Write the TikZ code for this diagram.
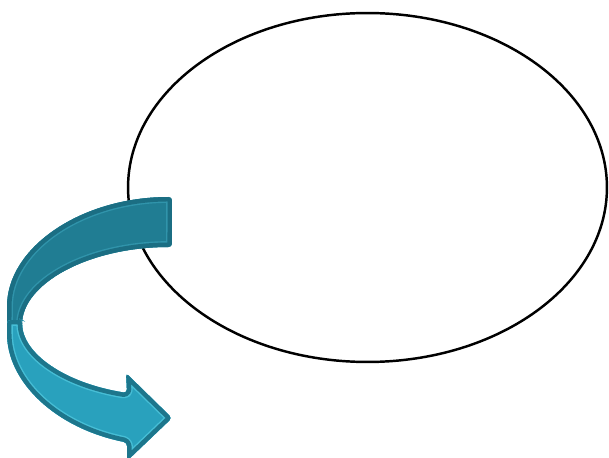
\documentclass[tikz,border=0pt]{standalone}
\usetikzlibrary{positioning}
\definecolor{backfill}{RGB}{32,125,147}
\definecolor{backedge}{RGB}{27,110,131}
\definecolor{backline}{RGB}{48,148,171}
\definecolor{frontfill}{RGB}{41,161,189}
\definecolor{frontedge}{RGB}{29,118,140}
\definecolor{frontline}{RGB}{70,190,214}
% the two halves of the bent arrow
\newcommand{\backband}{(172,260) arc[start angle=90, end angle=180, x radius=3.3cm, y radius=2.26cm]
  -- (7,129) -- (22,129) arc[start angle=180, end angle=90, x radius=3cm, y radius=1.62cm] -- cycle}
\newcommand{\frontband}{(22,137) -- (7,137) -- (7,127)
  arc[start angle=180, end angle=254.2, x radius=3.3cm, y radius=2.34cm]
  -- (127,-4) -- (172,39) -- (126,84) -- (127,64)
  arc[start angle=252.5, end angle=180, x radius=3cm, y radius=1.53cm] -- cycle}

\begin{document}
\begin{tikzpicture}[
  x=0.02cm, y=0.02cm,
  bubble/.style={draw=black, line width=1.4pt},
  band/.style={rounded corners=2pt, line join=round},
  inner/.style={line width=6.7pt},
  edge/.style={line width=5.1pt}
]
  \useasboundingbox (0,0) rectangle (609,457);
  \draw[bubble] (367.5,269.5) ellipse [x radius=4.79cm, y radius=3.49cm];
  % back half
  \begin{scope}[band]
    \fill[backfill] \backband;
    \clip \backband;
    \draw[inner, backline] \backband;
    \draw[edge, backedge] \backband;
  \end{scope}
  % front half with head
  \begin{scope}[band]
    \fill[frontfill] \frontband;
    \clip \frontband;
    \draw[inner, frontline] \frontband;
    \draw[edge, frontedge] \frontband;
  \end{scope}
\end{tikzpicture}
\end{document}
